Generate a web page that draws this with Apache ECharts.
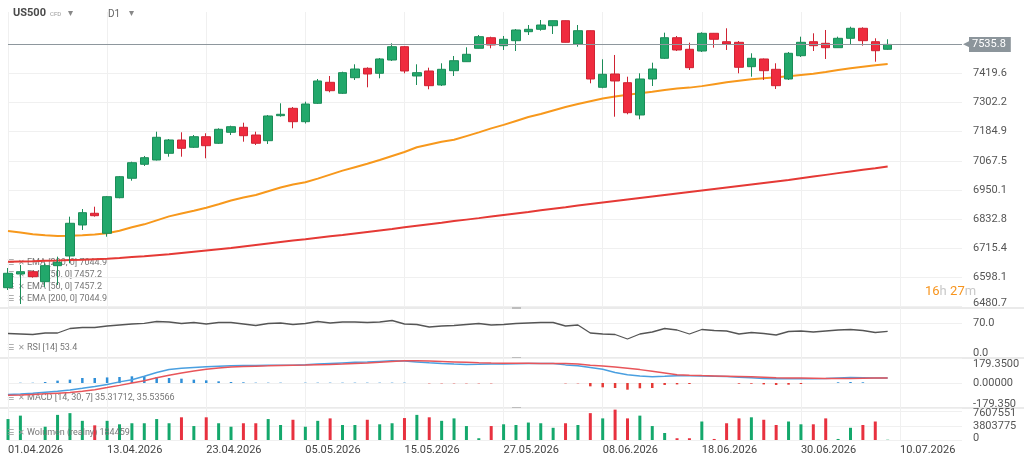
<!DOCTYPE html>
<html>
<head>
<meta charset="utf-8">
<script src="https://cdn.jsdelivr.net/npm/echarts@6/dist/echarts.min.js"></script>
<style>
  html, body { margin: 0; padding: 0; background: #fff; }
  #chart { width: 1024px; height: 461px; }
</style>
</head>
<body>
<div id="chart"></div>
<script>
// dni sesyjne (ostatnie 6 bez świec - przyszłość)
const dates = [
  '01.04.2026','02.04.2026','03.04.2026','06.04.2026','07.04.2026','08.04.2026','09.04.2026','10.04.2026',
  '13.04.2026','14.04.2026','15.04.2026','16.04.2026','17.04.2026','20.04.2026','21.04.2026','22.04.2026',
  '23.04.2026','24.04.2026','27.04.2026','28.04.2026','29.04.2026','30.04.2026','01.05.2026','04.05.2026',
  '05.05.2026','06.05.2026','07.05.2026','08.05.2026','11.05.2026','12.05.2026','13.05.2026','14.05.2026',
  '15.05.2026','18.05.2026','19.05.2026','20.05.2026','21.05.2026','22.05.2026','25.05.2026','26.05.2026',
  '27.05.2026','28.05.2026','29.05.2026','01.06.2026','02.06.2026','03.06.2026','04.06.2026','05.06.2026',
  '08.06.2026','09.06.2026','10.06.2026','11.06.2026','12.06.2026','15.06.2026','16.06.2026','17.06.2026',
  '18.06.2026','19.06.2026','22.06.2026','23.06.2026','24.06.2026','25.06.2026','26.06.2026','29.06.2026',
  '30.06.2026','01.07.2026','02.07.2026','03.07.2026','06.07.2026','07.07.2026','08.07.2026','09.07.2026',
  '10.07.2026','13.07.2026','14.07.2026','15.07.2026','16.07.2026','17.07.2026'
];

// [open, close, low, high]
const ohlc = [
  [6557.2, 6615.1, 6547.9, 6636.4], [6612.3, 6621.5, 6491.6, 6648.5], [6621.5, 6601.4, 6597.4, 6625.5],
  [6581.3, 6645.7, 6561.2, 6655.3], [6645.7, 6659.3, 6568.0, 6681.9], [6684.7, 6816.3, 6655.3, 6842.8],
  [6809.4, 6858.9, 6789.3, 6873.7], [6856.5, 6846.8, 6842.8, 6883.0], [6776.0, 6923.2, 6762.3, 6926.1],
  [6919.2, 7003.7, 6916.8, 7006.5], [6997.3, 7060.0, 6987.6, 7064.0], [7053.6, 7080.1, 7046.7, 7087.0],
  [7070.9, 7162.2, 7068.9, 7184.7], [7097.8, 7151.3, 7084.1, 7155.3], [7151.3, 7117.9, 7084.1, 7182.3],
  [7122.0, 7164.6, 7119.1, 7171.4], [7164.6, 7128.4, 7077.7, 7178.3], [7138.1, 7194.4, 7135.3, 7198.4],
  [7182.3, 7204.8, 7171.4, 7208.9], [7202.4, 7168.6, 7144.5, 7220.9], [7171.4, 7138.1, 7131.2, 7184.7],
  [7148.5, 7247.9, 7135.3, 7251.9], [7249.1, 7254.7, 7245.0, 7298.9], [7278.8, 7224.9, 7198.4, 7284.1],
  [7224.9, 7296.1, 7217.7, 7305.4], [7298.9, 7388.7, 7296.1, 7396.7], [7383.4, 7349.6, 7343.2, 7408.8],
  [7339.2, 7422.1, 7336.4, 7426.1], [7401.9, 7436.9, 7392.7, 7455.8], [7439.7, 7416.8, 7363.3, 7443.8],
  [7419.6, 7477.2, 7399.5, 7481.2], [7473.1, 7526.6, 7469.1, 7540.3], [7526.6, 7428.9, 7419.6, 7529.5],
  [7408.8, 7422.1, 7372.6, 7455.8], [7428.9, 7369.8, 7355.3, 7442.2], [7372.6, 7435.7, 7368.5, 7459.9],
  [7430.1, 7470.3, 7408.8, 7489.2], [7466.3, 7496.1, 7465.1, 7524.2], [7520.2, 7566.9, 7519.4, 7573.7],
  [7562.8, 7533.5, 7520.2, 7566.9], [7530.7, 7556.4, 7513.4, 7569.7], [7550.8, 7593.8, 7509.3, 7597.8],
  [7587.0, 7596.6, 7573.7, 7613.9], [7596.6, 7613.9, 7591.0, 7634.0], [7611.1, 7631.2, 7577.7, 7632.0],
  [7631.2, 7544.3, 7543.5, 7632.0], [7537.5, 7591.0, 7526.6, 7613.9], [7591.0, 7396.7, 7379.4, 7591.8],
  [7363.3, 7415.6, 7359.3, 7476.0], [7416.8, 7388.7, 7245.0, 7493.3], [7381.8, 7261.1, 7254.7, 7405.9],
  [7251.9, 7396.7, 7234.6, 7419.6], [7396.7, 7436.9, 7368.5, 7462.3], [7480.0, 7562.8, 7477.2, 7583.0],
  [7562.8, 7513.4, 7509.3, 7569.7], [7516.2, 7442.2, 7432.9, 7542.7], [7509.3, 7580.5, 7505.3, 7584.6],
  [7580.5, 7556.4, 7522.6, 7581.8], [7546.7, 7537.5, 7513.4, 7600.7], [7544.3, 7443.8, 7419.6, 7549.6],
  [7446.2, 7480.0, 7405.9, 7500.1], [7477.2, 7430.1, 7392.7, 7479.2], [7435.7, 7369.8, 7356.5, 7459.9],
  [7396.7, 7500.1, 7392.7, 7505.3], [7490.4, 7544.3, 7485.2, 7566.9], [7546.7, 7530.7, 7509.3, 7580.5],
  [7540.3, 7522.6, 7477.2, 7593.8], [7522.6, 7560.4, 7521.4, 7566.9], [7560.4, 7600.7, 7537.5, 7607.1],
  [7600.7, 7550.8, 7530.7, 7604.7], [7546.7, 7510.5, 7466.3, 7560.4], [7516.2, 7535.8, 7513.4, 7556.4]
];

const ema50 = [
  6785, 6779, 6772, 6768, 6765, 6766, 6768, 6771, 6776, 6786, 6800, 6812, 6828, 6844, 6856, 6867,
  6879, 6893, 6908, 6920, 6930, 6945, 6960, 6972, 6981, 6996, 7012, 7028, 7042, 7056, 7071, 7087,
  7103, 7122, 7133, 7144, 7152, 7167, 7182, 7198, 7212, 7228, 7244, 7256, 7270, 7284, 7296, 7307,
  7318, 7326, 7333, 7339, 7345, 7352, 7358, 7362, 7368, 7376, 7384, 7390, 7396, 7400, 7404, 7408,
  7413, 7418, 7425, 7433, 7440, 7446, 7452, 7457.2
];

const ema200 = [
  6662, 6663, 6664, 6666, 6667, 6669, 6670, 6672, 6674, 6677, 6681, 6684, 6688, 6692, 6697, 6702,
  6707, 6712, 6717, 6723, 6729, 6735, 6741, 6747, 6752, 6758, 6764, 6769, 6775, 6781, 6787, 6793,
  6800, 6806, 6812, 6818, 6825, 6831, 6837, 6844, 6850, 6856, 6862, 6869, 6875, 6881, 6888, 6894,
  6900, 6906, 6912, 6918, 6924, 6930, 6936, 6942, 6948, 6954, 6960, 6966, 6972, 6978, 6984, 6990,
  6997, 7004, 7011, 7018, 7025, 7032, 7038, 7044.9
];

const rsi = [
  49, 48, 47, 50, 50, 59, 61, 61, 64, 66, 68, 69.4, 73, 72, 69, 71,
  68, 71, 71, 68, 65, 69, 70, 67, 69, 73, 70, 72, 72, 71, 72, 75,
  68, 67, 62, 64, 65, 67, 69, 66, 67, 69, 70, 71, 71, 64, 66, 50,
  48, 47, 38, 48, 52, 59, 56, 48, 57, 55, 54, 48, 51, 49, 46, 53,
  54, 52, 54, 56, 57, 55, 51, 53.4
];

const macdLine = [
  -83, -79, -74, -67, -60, -50, -38, -25, -10, 8, 24, 48, 75, 97, 106, 112,
  117, 121, 123, 125, 126, 127, 127, 128, 131, 136, 140, 144, 148, 151, 155, 159,
  157, 151, 145, 140, 136, 133, 134, 136, 137, 138, 139, 140, 140, 130, 124, 112,
  98, 75, 60, 50, 45, 48, 52, 52, 51, 49, 46, 42, 37, 32, 30, 30,
  31, 31, 32, 36, 40, 38, 36, 35.3
];

const macdSignal = [
  -88, -86, -82, -78, -73, -68, -60, -48, -33, -17, 0, 16, 38, 56, 72, 86,
  98, 108, 114, 118, 121, 123, 126, 128, 129, 131, 133, 136, 140, 143, 148, 155,
  159, 159, 157, 154, 151, 148, 145, 143, 142, 141, 141, 140, 140, 140, 136, 128,
  122, 115, 106, 96, 84, 72, 60, 56, 53, 51, 49, 47, 44, 41, 38, 36,
  35, 34, 33, 32, 33, 34, 35, 35.5
];

const macdHist = [
  0, 2, 2, 7, 17, 24, 36, 36, 40, 43, 48, 48, 43, 36, 31, 24,
  19, 12, 7, 5, 2.5, 2.5, 2.5, 0, 2.5, 2.5, 2.5, 2.5, 2.5, 2.5, 2.5, 2.5,
  2.5, 0, -2.5, -2.5, -2.5, -2.5, -2.5, -2.5, 0, 0, 0, 0, 0, -2.5, -2.5, -24,
  -31, -36, -48, -38, -36, -14, -10, -7, 0, 0, 0, -5, -5, -10, -14, -12,
  -7, 0, 0, 5, 7, 5, 0, 0
];

const volume = [
  5630000, 6550000, 0, 3570000, 6750000, 7220000, 5150000, 3940000, 5150000, 4220000, 4500000, 4500000,
  5630000, 4500000, 6100000, 3750000, 6100000, 4500000, 3570000, 4500000, 4500000, 5630000, 4030000, 5440000,
  3570000, 5150000, 5810000, 4030000, 4030000, 5440000, 4220000, 4500000, 5900000, 6750000, 6100000, 5150000,
  5810000, 3750000, 470000, 3750000, 4220000, 4030000, 4690000, 4500000, 3280000, 4500000, 4030000, 7220000,
  5810000, 8160000, 5810000, 6550000, 3750000, 1880000, 470000, 470000, 4970000, 280000, 4500000, 5810000,
  6100000, 5440000, 4030000, 4970000, 4220000, 4220000, 5810000, 280000, 3280000, 4030000, 4970000, 184459
];

const priceTicks = [6480.7, 6598.1, 6715.4, 6832.8, 6950.1, 7067.5, 7184.9, 7302.2, 7419.6];
const rsiTicks = [0, 70];
const macdTicks = [-179.35, 0, 179.35];
const macdTickLabels = ['-179.350', '0.00000', '179.3500'];
const volumeTicks = [0, 3803775, 7607551];
const lastPrice = 7535.8;

const UP = '#22a86b', UP_BORDER = '#1b8c58';
const DOWN = '#ef2b3e', DOWN_BORDER = '#cf2333';
const LABEL = '#555';

const chart = echarts.init(document.getElementById('chart'));

const gridDefs = [
  { left: 8, right: 62, top: 12, height: 294.7 },
  { left: 8, right: 62, top: 308, height: 50 },
  { left: 8, right: 62, top: 358, height: 50 },
  { left: 8, right: 62, top: 408, height: 32 }
];

const xAxes = gridDefs.map((g, i) => ({
  type: 'category',
  gridIndex: i,
  data: dates,
  boundaryGap: false,
  axisLine: { show: false },
  axisTick: { show: false },
  axisLabel: {
    show: i === 3,
    interval: 7,
    align: 'left',
    margin: 5,
    color: '#444',
    fontSize: 11
  },
  splitLine: { show: true, interval: 7, lineStyle: { color: '#f0f0f0', width: 1 } }
}));

function yAxisBase(i, min, max, ticks, formatter, rich) {
  return {
    type: 'value',
    gridIndex: i,
    position: 'right',
    min: min,
    max: max,
    axisLine: { show: false },
    axisTick: { show: false, customValues: ticks },
    axisLabel: {
      customValues: ticks,
      showMinLabel: true,
      showMaxLabel: true,
      hideOverlap: false,
      margin: 11,
      color: LABEL,
      fontSize: 11,
      formatter: formatter,
      rich: rich
    },
    splitLine: { show: true, lineStyle: { color: '#f0f0f0' } }
  };
}

const richStyle = (top, bottom) => ({ padding: [top, 0, bottom, 0], color: LABEL, fontSize: 11 });

const yAxes = [
  yAxisBase(0, 6480.7, 7666.2, priceTicks,
    v => v === priceTicks[0] ? '{lo|' + v.toFixed(1) + '}' : v.toFixed(1),
    { lo: richStyle(0, 7) }),
  yAxisBase(1, 0, 100, rsiTicks,
    v => v === 0 ? '{lo|0.0}' : v.toFixed(1),
    { lo: richStyle(0, 10) }),
  yAxisBase(2, -179.35, 179.35, macdTicks, v => {
    const k = macdTicks.indexOf(v);
    const s = macdTickLabels[k];
    if (k === 0) return '{lo|' + s + '}';
    if (k === 2) return '{hi|' + s + '}';
    return s;
  }, { lo: richStyle(0, 7), hi: richStyle(12, 0) }),
  yAxisBase(3, 0, 8600000, volumeTicks,
    v => v === 0 ? '{lo|0}' : (v === volumeTicks[2] ? '{hi|' + v + '}' : String(v)),
    { lo: richStyle(0, 4), hi: richStyle(4, 0) })
];

const histData = macdHist.map(v => ({
  value: v,
  itemStyle: { color: v >= 0 ? '#2f8fd8' : '#e53935' }
}));

const volumeData = volume.map((v, i) => {
  const up = ohlc[i][1] >= ohlc[i][0];
  let c = up ? '#14a86c' : '#e8313f';
  if (i === volume.length - 1) c = '#9fdcc2';
  return { value: v, itemStyle: { color: c } };
});

function legendText(y, text, z) {
  return [
    { type: 'text', left: 7, top: y - 5, z: z || 0, style: { text: '☰', fill: '#999', font: '8px DejaVu Sans' } },
    { type: 'text', left: 18, top: y - 5, z: z || 0, style: { text: '✕', fill: '#999', font: 'bold 8px DejaVu Sans' } },
    { type: 'text', left: 27, top: y - 6, z: z || 0, style: { text: text, fill: '#777', font: '9px Roboto' } }
  ];
}

const separators = [308, 358, 408].flatMap(y => [
  { type: 'line', shape: { x1: 0, y1: y, x2: 1024, y2: y }, style: { stroke: '#e3e3e3', lineWidth: 1.5 } },
  { type: 'rect', shape: { x: 512, y: y - 1, width: 9, height: 2 }, style: { fill: '#bdbdbd' } }
]);

const option = {
  animation: false,
  backgroundColor: '#fff',
  textStyle: { fontFamily: 'Roboto, sans-serif' },
  grid: gridDefs,
  xAxis: xAxes,
  yAxis: yAxes,
  graphic: [
    ...separators,
    { type: 'text', left: 13, top: 8, style: { text: 'US500', fill: '#4a4a4a', font: 'bold 11px Roboto' } },
    { type: 'text', left: 50, top: 11, style: { text: 'CFD', fill: '#999', font: '6px Roboto' } },
    { type: 'text', left: 68, top: 8, style: { text: '▾', fill: '#888', font: '10px DejaVu Sans' } },
    { type: 'text', left: 108, top: 9, style: { text: 'D1', fill: '#666', font: '10px Roboto' } },
    { type: 'text', left: 129, top: 8, style: { text: '▾', fill: '#888', font: '10px DejaVu Sans' } },
    ...legendText(264, 'EMA [200, 0] 7044.9'),
    ...legendText(276, 'EMA [50, 0] 7457.2'),
    ...legendText(288, 'EMA [50, 0] 7457.2'),
    ...legendText(300, 'EMA [200, 0] 7044.9'),
    ...legendText(349, 'RSI [14] 53.4'),
    ...legendText(399, 'MACD [14, 30, 7] 35.31712, 35.53566'),
    ...legendText(434, 'Wolumen (realny) 184459', 10),
    {
      type: 'text', left: 925, top: 285,
      style: {
        text: '{o|16}{g|h} {o|27}{g|m}',
        rich: {
          o: { fill: '#f7941d', font: '13px Roboto' },
          g: { fill: '#c8c8c8', font: '13px Roboto' }
        }
      }
    }
  ],
  series: [
    {
      name: 'US500',
      type: 'candlestick',
      xAxisIndex: 0,
      yAxisIndex: 0,
      data: ohlc,
      barWidth: 9,
      clip: false,
      z: 3,
      itemStyle: {
        color: UP,
        color0: DOWN,
        borderColor: UP_BORDER,
        borderColor0: DOWN_BORDER,
        borderWidth: 1
      },
      markLine: {
        silent: true,
        symbol: ['none', 'none'],
        lineStyle: { color: '#8e979d', width: 1, type: 'solid' },
        label: {
          position: 'end',
          distance: 1,
          formatter: '{a|◀}{b|7535.8}',
          rich: {
            a: { color: '#8c959b', fontSize: 11, padding: [0, -2, 0, 0] },
            b: { color: '#fff', backgroundColor: '#8c959b', fontSize: 11, padding: [2, 5, 2, 3] }
          }
        },
        data: [{ yAxis: lastPrice }]
      }
    },
    {
      name: 'EMA 50',
      type: 'line',
      xAxisIndex: 0,
      yAxisIndex: 0,
      data: ema50,
      symbol: 'none',
      z: 2,
      lineStyle: { color: '#f7981c', width: 2 }
    },
    {
      name: 'EMA 200',
      type: 'line',
      xAxisIndex: 0,
      yAxisIndex: 0,
      data: ema200,
      symbol: 'none',
      z: 2,
      lineStyle: { color: '#e53935', width: 2 }
    },
    {
      name: 'RSI',
      type: 'line',
      xAxisIndex: 1,
      yAxisIndex: 1,
      data: rsi,
      symbol: 'none',
      lineStyle: { color: '#555', width: 1.3 }
    },
    {
      name: 'MACD hist',
      type: 'bar',
      xAxisIndex: 2,
      yAxisIndex: 2,
      data: histData,
      barWidth: 2.5,
      clip: false
    },
    {
      name: 'MACD',
      type: 'line',
      xAxisIndex: 2,
      yAxisIndex: 2,
      data: macdLine,
      symbol: 'none',
      lineStyle: { color: '#4a9fe0', width: 1.5 }
    },
    {
      name: 'Signal',
      type: 'line',
      xAxisIndex: 2,
      yAxisIndex: 2,
      data: macdSignal,
      symbol: 'none',
      lineStyle: { color: '#e8555a', width: 1.5 }
    },
    {
      name: 'Wolumen',
      type: 'bar',
      xAxisIndex: 3,
      yAxisIndex: 3,
      data: volumeData,
      barWidth: 3,
      clip: false
    }
  ]
};

chart.setOption(option);
</script>
</body>
</html>
